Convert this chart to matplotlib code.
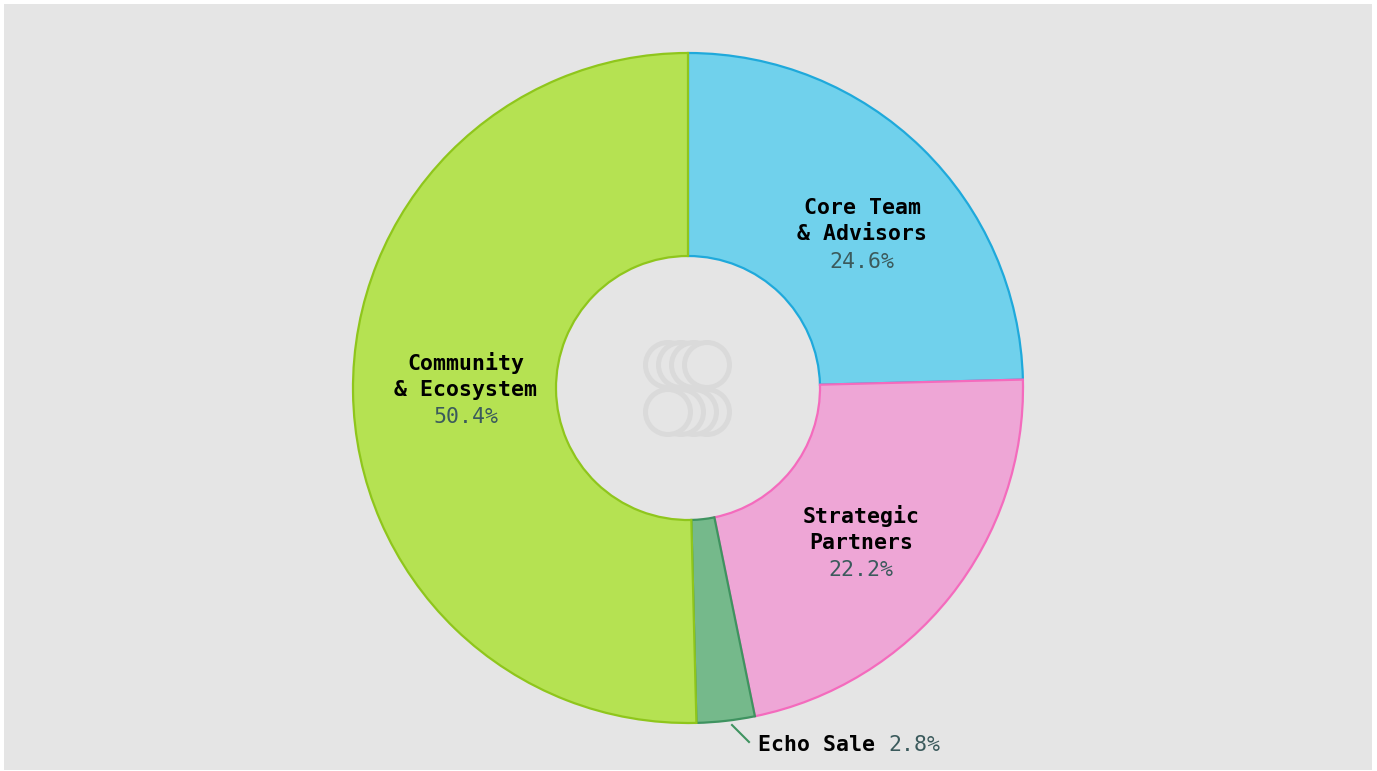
import matplotlib
matplotlib.use("Agg")
import matplotlib.pyplot as plt
from matplotlib.patches import Rectangle, Circle

# Token allocation data
labels = ["Core Team\n& Advisors", "Strategic\nPartners", "Echo Sale", "Community\n& Ecosystem"]
shares = [24.6, 22.2, 2.8, 50.4]
fills = ["#70d1ec", "#eea6d6", "#75b98b", "#b5e252"]
edges = ["#1fa9db", "#f46bbd", "#3f9360", "#8fc61c"]

W, H = 1377, 771
fig = plt.figure(figsize=(W / 100, H / 100), dpi=100, facecolor="white")
ax = fig.add_axes([0, 0, 1, 1])

bg = "#e5e5e5"
ax.add_patch(Rectangle((4, 1), 1368, 766, facecolor=bg, edgecolor="none", zorder=0))

cx, cy = 688, 383
R, r = 335, 132
wedges, _ = ax.pie(shares, startangle=90, counterclock=False, radius=R, center=(cx, cy),
                   colors=fills, wedgeprops=dict(width=R - r, linewidth=1.6), frame=True)
for w, ec in zip(wedges, edges):
    w.set_edgecolor(ec)
    w.set_zorder(2)
ax.set_xlim(0, W)
ax.set_ylim(0, H)
ax.set_aspect("equal")
ax.axis("off")

# center logo: overlapping rings
ring = "#dadada"
for i, dx in enumerate([668, 681, 694, 707]):
    ax.add_patch(Circle((dx, H - 365), 22.5, facecolor=bg, edgecolor=ring, linewidth=3.6, zorder=3 + i))
for i, dx in enumerate([707, 694, 681, 668]):
    ax.add_patch(Circle((dx, H - 412), 22.5, facecolor=bg, edgecolor=ring, linewidth=3.6, zorder=3 + i))

font = dict(family="DejaVu Sans Mono", fontsize=15.5)
pct_color = "#3b5a5c"
pos = {0: (862, 207), 1: (861, 515), 3: (466, 362)}
for i, (x, y) in pos.items():
    ax.text(x, H - y - 14, labels[i], ha="center", va="center", weight="bold",
            color="black", linespacing=1.42, zorder=10, **font)
    ax.text(x, H - y - 55, f"{shares[i]}%", ha="center", va="center",
            color=pct_color, zorder=10, **font)

# Echo Sale label with leader line
ax.plot([732, 749], [H - 725, H - 742], color="#3f9360", linewidth=1.5, zorder=10)
ax.text(758, H - 745, labels[2] + " ", ha="left", va="center", weight="bold",
        color="black", zorder=10, **font)
ax.text(758 + 13 * 10, H - 745, f"{shares[2]}%", ha="left", va="center",
        color=pct_color, zorder=10, **font)

fig.savefig("out.png", dpi=100, facecolor="white")
